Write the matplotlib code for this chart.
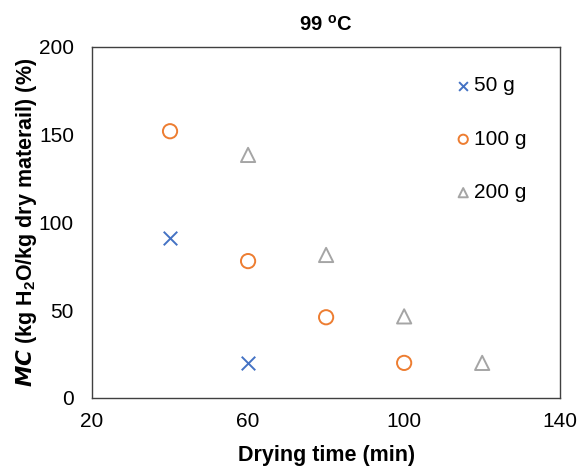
import matplotlib
matplotlib.use("Agg")
import matplotlib.pyplot as plt

plt.rcParams['font.family'] = ['Liberation Sans', 'DejaVu Sans']
plt.rcParams['mathtext.fontset'] = 'custom'
plt.rcParams['mathtext.rm'] = 'Liberation Sans'
plt.rcParams['mathtext.it'] = 'Liberation Sans:italic'
plt.rcParams['mathtext.bf'] = 'Liberation Sans:bold'

x50 = [40, 60]
y50 = [91, 20]
x100 = [40, 60, 80, 100]
y100 = [152, 78, 46, 20]
x200 = [60, 80, 100, 120]
y200 = [138.5, 81.5, 46.5, 20]

fig = plt.figure(figsize=(5.86, 4.68), dpi=100)
ax = fig.add_axes([0.157, 0.1496, 0.799, 0.75])

ax.scatter(x50, y50, marker='x', s=95, color='#4472C4', linewidths=1.4, label='50 g')
ax.scatter(x100, y100, marker='o', s=105, facecolors='none', edgecolors='#ED7D31', linewidths=1.4, label='100 g')
ax.scatter(x200, y200, marker='^', s=105, facecolors='none', edgecolors='#A5A5A5', linewidths=1.4, label='200 g')

ax.set_xlim(20, 140)
ax.set_ylim(0, 200)
ax.set_xticks([20, 60, 100, 140])
ax.set_yticks([0, 50, 100, 150, 200])
ax.tick_params(length=0, labelsize=15)
ax.tick_params(axis='x', pad=10)
ax.tick_params(axis='y', pad=13)
for s in ax.spines.values():
    s.set_color('#404040')
    s.set_linewidth(1.0)

ax.set_title('99 $^{\\mathbf{o}}$C', fontsize=14.5, fontweight='bold', pad=12)
ax.set_xlabel('Drying time (min)', fontsize=15.5, fontweight='bold', labelpad=10)
ax.set_ylabel('$\\bfit{MC}$ (kg H$_\\mathbf{2}$O/kg dry materail) (%)', fontsize=15.5, fontweight='bold')
ax.yaxis.set_label_coords(-0.113, 0.5)

leg = ax.legend(loc='upper right', frameon=False, fontsize=15, markerscale=0.65,
                handletextpad=0.0, labelspacing=1.65, handlelength=1.0,
                borderaxespad=0.0, bbox_to_anchor=(0.945, 0.94))

fig.savefig('out.png', dpi=100)
